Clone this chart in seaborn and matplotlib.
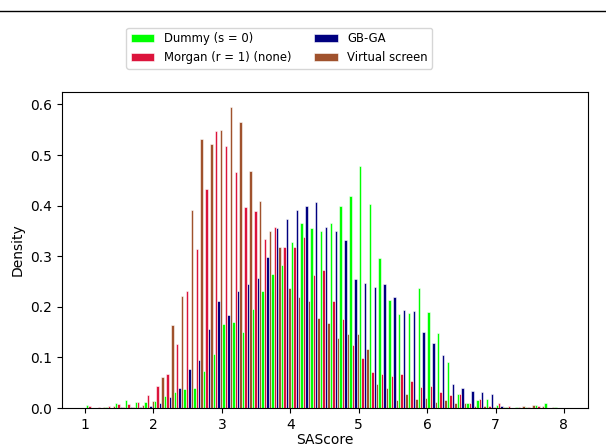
import numpy as np
import pandas as pd
import seaborn as sns
import matplotlib

matplotlib.use("Agg")
import matplotlib.pyplot as plt
from matplotlib.lines import Line2D

# SAScore histogram, 49 common bins, density per method
n_bins = 49
score_range = (1.01, 8.0)

methods = ["Dummy (s = 0)", "Morgan (r = 1) (none)", "GB-GA", "Virtual screen"]
colors = ["#00ff00", "#dc143c", "#000080", "#a0522d"]

dummy = [
    0.006, 0.0, 0.003, 0.010, 0.016, 0.012, 0.013, 0.014, 0.023, 0.032,
    0.038, 0.039, 0.074, 0.107, 0.166, 0.170, 0.151, 0.195, 0.232, 0.265,
    0.282, 0.328, 0.366, 0.356, 0.350, 0.366, 0.399, 0.419, 0.478, 0.404,
    0.296, 0.214, 0.186, 0.188, 0.237, 0.190, 0.148, 0.091, 0.027, 0.010,
    0.015, 0.018, 0.007, 0.003, 0.002, 0.003, 0.006, 0.011, 0.003,
]
morgan = [
    0.004, 0.002, 0.004, 0.009, 0.009, 0.013, 0.025, 0.043, 0.067, 0.127,
    0.232, 0.314, 0.433, 0.547, 0.518, 0.467, 0.398, 0.390, 0.335, 0.358,
    0.318, 0.318, 0.339, 0.262, 0.273, 0.211, 0.176, 0.125, 0.098, 0.072,
    0.068, 0.064, 0.068, 0.053, 0.042, 0.044, 0.031, 0.026, 0.027, 0.011,
    0.018, 0.005, 0.011, 0.005, 0.002, 0.002, 0.005, 0.0, 0.0,
]
gbga = [
    0.0, 0.0, 0.0, 0.002, 0.002, 0.003, 0.005, 0.011, 0.022, 0.040,
    0.078, 0.095, 0.156, 0.212, 0.183, 0.232, 0.245, 0.257, 0.299, 0.356,
    0.373, 0.391, 0.400, 0.408, 0.357, 0.349, 0.333, 0.256, 0.247, 0.240,
    0.246, 0.220, 0.193, 0.191, 0.151, 0.128, 0.105, 0.047, 0.039, 0.034,
    0.031, 0.028, 0.005, 0.001, 0.0, 0.0, 0.0, 0.0, 0.0,
]
virtual = [
    0.0, 0.002, 0.004, 0.002, 0.002, 0.006, 0.014, 0.062, 0.165, 0.222,
    0.391, 0.531, 0.522, 0.550, 0.595, 0.565, 0.468, 0.409, 0.350, 0.318,
    0.238, 0.220, 0.211, 0.178, 0.168, 0.138, 0.147, 0.147, 0.117, 0.047,
    0.039, 0.015, 0.028, 0.018, 0.020, 0.012, 0.015, 0.010, 0.010, 0.005,
    0.005, 0.003, 0.002, 0.001, 0.004, 0.007, 0.005, 0.002, 0.0,
]

edges = np.linspace(score_range[0], score_range[1], n_bins + 1)
centers = (edges[:-1] + edges[1:]) / 2
df = pd.concat(
    [
        pd.DataFrame({"SAScore": centers, "weight": vals, "method": m})
        for m, vals in zip(methods, [dummy, morgan, gbga, virtual])
    ],
    ignore_index=True,
)

fig, ax = plt.subplots(figsize=(6.06, 4.46), dpi=100)
fig.subplots_adjust(left=0.102, right=0.970, top=0.794, bottom=0.085)

sns.histplot(
    data=df,
    x="SAScore",
    weights="weight",
    hue="method",
    hue_order=methods,
    palette=dict(zip(methods, colors)),
    bins=n_bins,
    binrange=score_range,
    multiple="dodge",
    stat="count",
    shrink=1,
    alpha=1,
    edgecolor="white",
    linewidth=0.4,
    ax=ax,
)
ax.set_ylabel("Density")
ax.set_xlabel("SAScore", labelpad=1)

sns.move_legend(
    ax,
    "center",
    bbox_to_anchor=(0.461, 0.892),
    bbox_transform=fig.transFigure,
    ncol=2,
    title=None,
    frameon=True,
    fontsize=8.4,
)

# frame line of the cropped panel above
fig.add_artist(Line2D([0, 1], [0.975, 0.975], color="black", linewidth=1))

fig.savefig("out.png", dpi=100)
